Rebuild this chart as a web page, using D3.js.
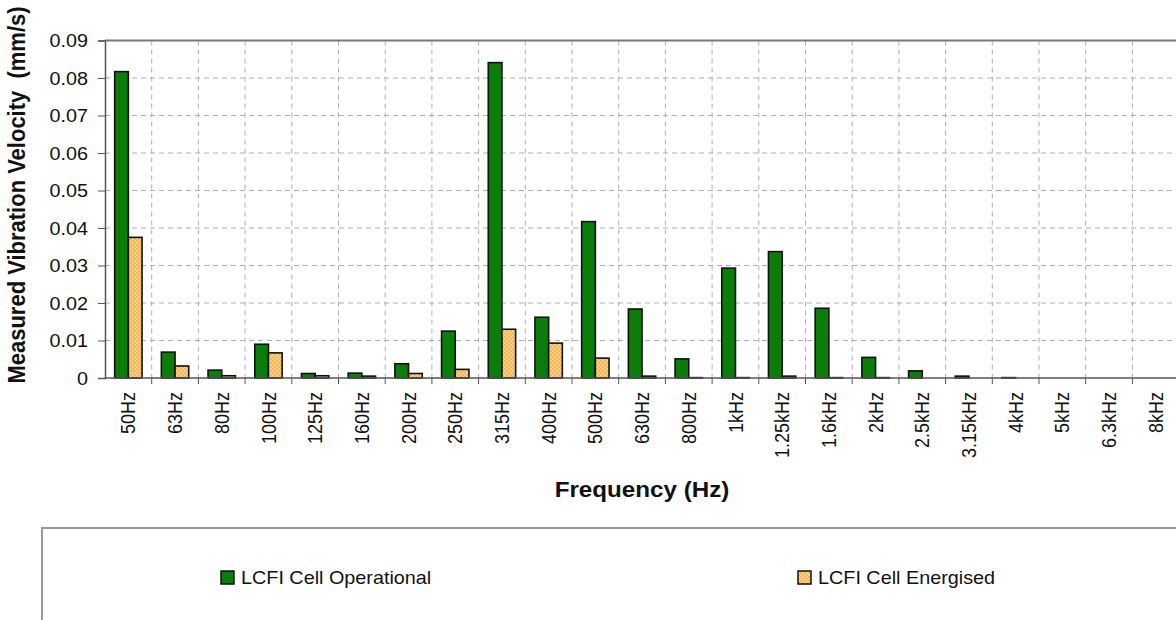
<!DOCTYPE html>
<html>
<head>
<meta charset="utf-8">
<script src="https://cdn.jsdelivr.net/npm/d3@7"></script>
<style>
  html, body { margin: 0; padding: 0; background: #fff; }
  svg { display: block; font-family: "Liberation Sans", Arial, sans-serif; }
</style>
</head>
<body>
<svg id="chart" width="1176" height="620"></svg>
<script>
// ---- data ----
const categories = ["50Hz","63Hz","80Hz","100Hz","125Hz","160Hz","200Hz","250Hz","315Hz","400Hz","500Hz","630Hz","800Hz","1kHz","1.25kHz","1.6kHz","2kHz","2.5kHz","3.15kHz","4kHz","5kHz","6.3kHz","8kHz"];
const operational = [0.0817,0.0069,0.0021,0.0090,0.0012,0.0013,0.0038,0.0125,0.0841,0.0162,0.0417,0.0184,0.0051,0.0293,0.0337,0.0186,0.0055,0.0019,0.0005,0.0001,0,0,0];
const energised   = [0.0375,0.0032,0.0006,0.0067,0.0006,0.0005,0.0012,0.0023,0.0130,0.0093,0.0053,0.0005,0.0001,0.0001,0.0005,0.0001,0.0001,0,0,0,0,0,0];
const seriesNames = ["LCFI Cell Operational","LCFI Cell Energised"];
const yTicks = [0,0.01,0.02,0.03,0.04,0.05,0.06,0.07,0.08,0.09];
const xTitle = "Frequency (Hz)";
const yTitle = "Measured Vibration Velocity  (mm/s)";

(function () {
// ---- layout ----
const SX = 1.1; // horizontal text stretch seen in reference
const mLeft = 105, mTop = 40.5, mBottom = 378, step = 46.7;
const mRight = mLeft + step * categories.length;
const svg = d3.select("#chart");

const defs = svg.append("defs");
const pat = defs.append("pattern").attr("id","dots").attr("patternUnits","userSpaceOnUse")
  .attr("width",4).attr("height",4);
pat.append("rect").attr("width",4).attr("height",4).attr("fill","#fbcf7e");
pat.append("circle").attr("cx",1).attr("cy",1).attr("r",0.8).attr("fill","#e39c3c");
pat.append("circle").attr("cx",3).attr("cy",3).attr("r",0.8).attr("fill","#e39c3c");

const x = d3.scaleBand().domain(categories).range([mLeft, mRight]).paddingInner(0).paddingOuter(0);
const y = d3.scaleLinear().domain([0, 0.09]).range([mBottom, mTop]);

const barW = x.bandwidth() * 0.293;
const colors = ["#0b7d0b", "url(#dots)"];

// gridlines
const grid = svg.append("g");
grid.append("g").selectAll("line").data(yTicks.filter(d => d > 0 && d < 0.09)).join("line")
  .attr("x1", mLeft).attr("x2", mRight).attr("y1", d => y(d)).attr("y2", d => y(d))
  .attr("stroke","#b0b0b0").attr("stroke-width",1).attr("stroke-dasharray","5,4");
grid.append("g").selectAll("line").data(categories.slice(1)).join("line")
  .attr("x1", d => x(d)).attr("x2", d => x(d)).attr("y1", mTop).attr("y2", mBottom)
  .attr("stroke","#b0b0b0").attr("stroke-width",1).attr("stroke-dasharray","5,4");

// bars
const series = [operational, energised];
series.forEach((vals, si) => {
  svg.append("g").selectAll("rect")
    .data(categories.map((c, i) => ({c, v: vals[i]})).filter(d => d.v > 0))
    .join("rect")
    .attr("x", d => x(d.c) + x.bandwidth()/2 - barW + si*barW)
    .attr("y", d => y(d.v))
    .attr("width", barW)
    .attr("height", d => mBottom - y(d.v))
    .attr("fill", colors[si])
    .attr("stroke", "#111").attr("stroke-width", 1.6);
});

// frame top
svg.append("line").attr("x1", mLeft).attr("x2", mRight).attr("y1", mTop).attr("y2", mTop)
  .attr("stroke","#7a7a7a").attr("stroke-width",2);

// y axis
const yAxis = svg.append("g").attr("transform", `translate(${mLeft},0)`)
  .call(d3.axisLeft(y).tickValues(yTicks).tickSize(7).tickFormat(d => d === 0 ? "0" : d3.format(".2f")(d)));
yAxis.select(".domain").attr("stroke","#555").attr("stroke-width",1.5);
yAxis.selectAll(".tick line").attr("stroke","#555");
yAxis.selectAll(".tick text")
  .attr("x", -17 / SX).attr("dy","0.36em")
  .attr("transform", `scale(${SX},1)`)
  .attr("font-size", 18).attr("fill","#111").attr("font-family","Liberation Sans, Arial, sans-serif");

// x axis labels
const xAxis = svg.append("g").attr("transform", `translate(0,${mBottom})`)
  .call(d3.axisBottom(x).tickSize(0));
xAxis.select(".domain").remove();
xAxis.selectAll(".tick text")
  .attr("transform", `scale(${SX},1) rotate(-90)`)
  .attr("x", -14).attr("y", 0).attr("dy","0.36em")
  .attr("text-anchor","end")
  .attr("font-size", 18).attr("fill","#111").attr("font-family","Liberation Sans, Arial, sans-serif");
// x axis baseline and boundary ticks
svg.append("line").attr("x1", mLeft).attr("x2", mRight).attr("y1", mBottom).attr("y2", mBottom)
  .attr("stroke","#555").attr("stroke-width",1.5);
svg.append("g").selectAll("line").data(categories.slice(1)).join("line")
  .attr("x1", d => x(d)).attr("x2", d => x(d)).attr("y1", mBottom).attr("y2", mBottom + 6)
  .attr("stroke","#555").attr("stroke-width",1);

// titles
function stretchedText(px, py, rot, str, size, weight) {
  svg.append("g").attr("transform", `translate(${px},${py}) scale(${SX},1) rotate(${rot})`)
    .append("text").attr("text-anchor","middle").attr("font-size", size)
    .attr("font-weight", weight).attr("fill","#111")
    .style("white-space","pre").attr("xml:space","preserve").text(str);
}
stretchedText(642, 497, 0, xTitle, 22, "bold");
stretchedText(25, 195, -90, yTitle, 22, "bold");

// legend
svg.append("rect").attr("x", 42).attr("y", 528).attr("width", 1200).attr("height", 200)
  .attr("fill","#fff").attr("stroke","#9a9a9a").attr("stroke-width",2);
const legendPos = [{sx: 221, tx: 241}, {sx: 798, tx: 818}];
seriesNames.forEach((name, i) => {
  svg.append("rect").attr("x", legendPos[i].sx).attr("y", 571).attr("width", 13).attr("height", 13)
    .attr("fill", colors[i]).attr("stroke","#111").attr("stroke-width",1.5);
  svg.append("g").attr("transform", `translate(${legendPos[i].tx},584) scale(${SX},1)`)
    .append("text").attr("font-size", 18).attr("fill","#111").text(name);
});
})();
</script>
</body>
</html>
